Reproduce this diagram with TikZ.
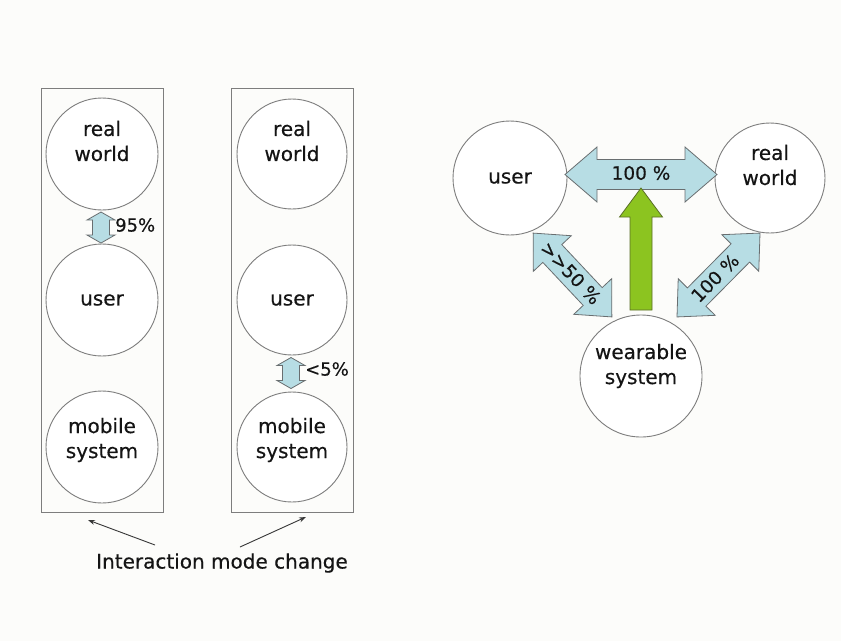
\documentclass[tikz,border=0pt]{standalone}
\usepackage{fontspec}
\setmainfont{DejaVu Sans}
\newfontfamily\labelfont{DejaVu Sans}[FakeBold=0.4]
\usetikzlibrary{arrows.meta}
\definecolor{bgcol}{RGB}{252,252,250}
\definecolor{edgegray}{RGB}{125,125,125}
\definecolor{arrowedge}{RGB}{105,110,112}
\definecolor{lightblue}{RGB}{183,221,228}
\definecolor{limegreen}{RGB}{140,196,32}
\definecolor{greenedge}{RGB}{90,110,40}
\definecolor{textcol}{RGB}{20,20,20}

% double-headed block arrow centred at #1, turned by #2 degrees;
% #3 half length, #4 half shaft width, #5 half head width, #6 head length
\newcommand\blockdbl[6]{%
  \begin{scope}[shift={#1},rotate=#2]
    \draw[bluearrow] (-#3,0) -- (-#3+#6,#5) -- (-#3+#6,#4) -- (#3-#6,#4)
      -- (#3-#6,#5) -- (#3,0) -- (#3-#6,-#5) -- (#3-#6,-#4)
      -- (-#3+#6,-#4) -- (-#3+#6,-#5) -- cycle;
  \end{scope}}

\tikzset{
  bubble/.style={circle, draw=edgegray, line width=0.9pt, fill=white,
    text=textcol, align=center, font=\labelfont\fontsize{20}{25}\selectfont, inner sep=0pt},
  inside/.style={text=textcol, align=center, font=\labelfont\fontsize{20}{25}\selectfont, inner sep=0pt},
  frame/.style={draw=edgegray, line width=1pt},
  bluearrow/.style={draw=arrowedge, line width=0.8pt, fill=lightblue, line join=miter},
  greenarrow/.style={draw=greenedge, line width=0.8pt, fill=limegreen},
  pctlabel/.style={text=textcol, font=\labelfont\fontsize{18}{20}\selectfont, inner sep=0pt},
  pctbig/.style={pctlabel, font=\labelfont\fontsize{18.5}{21}\selectfont},
  pointer/.style={draw=textcol!85, line width=0.9pt, -{Stealth[length=7pt,width=5pt]}},
  caption/.style={text=textcol, font=\labelfont\fontsize{20}{24}\selectfont, inner sep=0pt}
}

\begin{document}
\begin{tikzpicture}[x=1pt,y=-1pt]
  \fill[bgcol] (0,0) rectangle (841,641);
  \useasboundingbox (0,0) rectangle (841,641);

  % left column: interaction with a mobile system
  \draw[frame] (41,88) rectangle (163,512);
  \node[bubble, minimum size=112pt, label={[inside,yshift=13pt]center:real\\world}] (arw) at (102,154) {};
  \node[bubble, minimum size=112pt] (au)  at (102,300) {user};
  \node[bubble, minimum size=112pt, label={[inside,yshift=7pt]center:mobile\\system}] (ams) at (102,447) {};
  \blockdbl{(101,227.5)}{90}{15.5}{8.5}{14}{8}
  \node[pctlabel, anchor=west] (ap) at (115,225) {95\%};

  % middle column
  \draw[frame] (231,88) rectangle (353,512);
  \node[bubble, minimum size=110pt, label={[inside,yshift=13pt]center:real\\world}] (brw) at (292,154) {};
  \node[bubble, minimum size=110pt] (bu)  at (292,300) {user};
  \node[bubble, minimum size=110pt, label={[inside,yshift=7pt]center:mobile\\system}] (bms) at (292,447) {};
  \blockdbl{(291,373)}{90}{15.5}{8.5}{14}{8}
  \node[pctlabel, anchor=west] (bp) at (305,369) {<5\%};

  % caption with pointers to both columns
  \node[caption] (cap) at (222,563) {Interaction mode change};
  \coordinate (capl) at (155,545);
  \coordinate (capr) at (240,547);
  \coordinate (tipl) at (88,520);
  \coordinate (tipr) at (306,517);
  \draw[pointer] (capl) -- (tipl);
  \draw[pointer] (capr) -- (tipr);

  % right: wearable system triangle
  \node[bubble, minimum size=114pt] (cu)  at (510,178) {user};
  \node[bubble, minimum size=110pt, label={[inside,yshift=13pt]center:real\\world}] (crw) at (770,178) {};
  \node[bubble, minimum size=122pt, label={[inside,yshift=10pt]center:wearable\\system}] (cws) at (641,376) {};

  \blockdbl{(641,174.5)}{0}{76}{15}{27.5}{32}
  \node[pctbig] (ch) at (641,173) {100 \%};

  \draw[greenarrow] (641,188) -- (662.5,217) -- (652,217) -- (652,310)
    -- (630,310) -- (630,217) -- (619.5,217) -- cycle;

  \blockdbl{(572.5,275)}{-46.8}{57.5}{13}{26}{28}
  \node[pctbig, rotate=-46.8] (cl) at (571,273) {>{}>50 \%};

  \blockdbl{(718.5,275)}{45.3}{59}{13}{26}{28}
  \node[pctbig, rotate=45.3] (cr) at (715,278) {100 \%};
\end{tikzpicture}
\end{document}
